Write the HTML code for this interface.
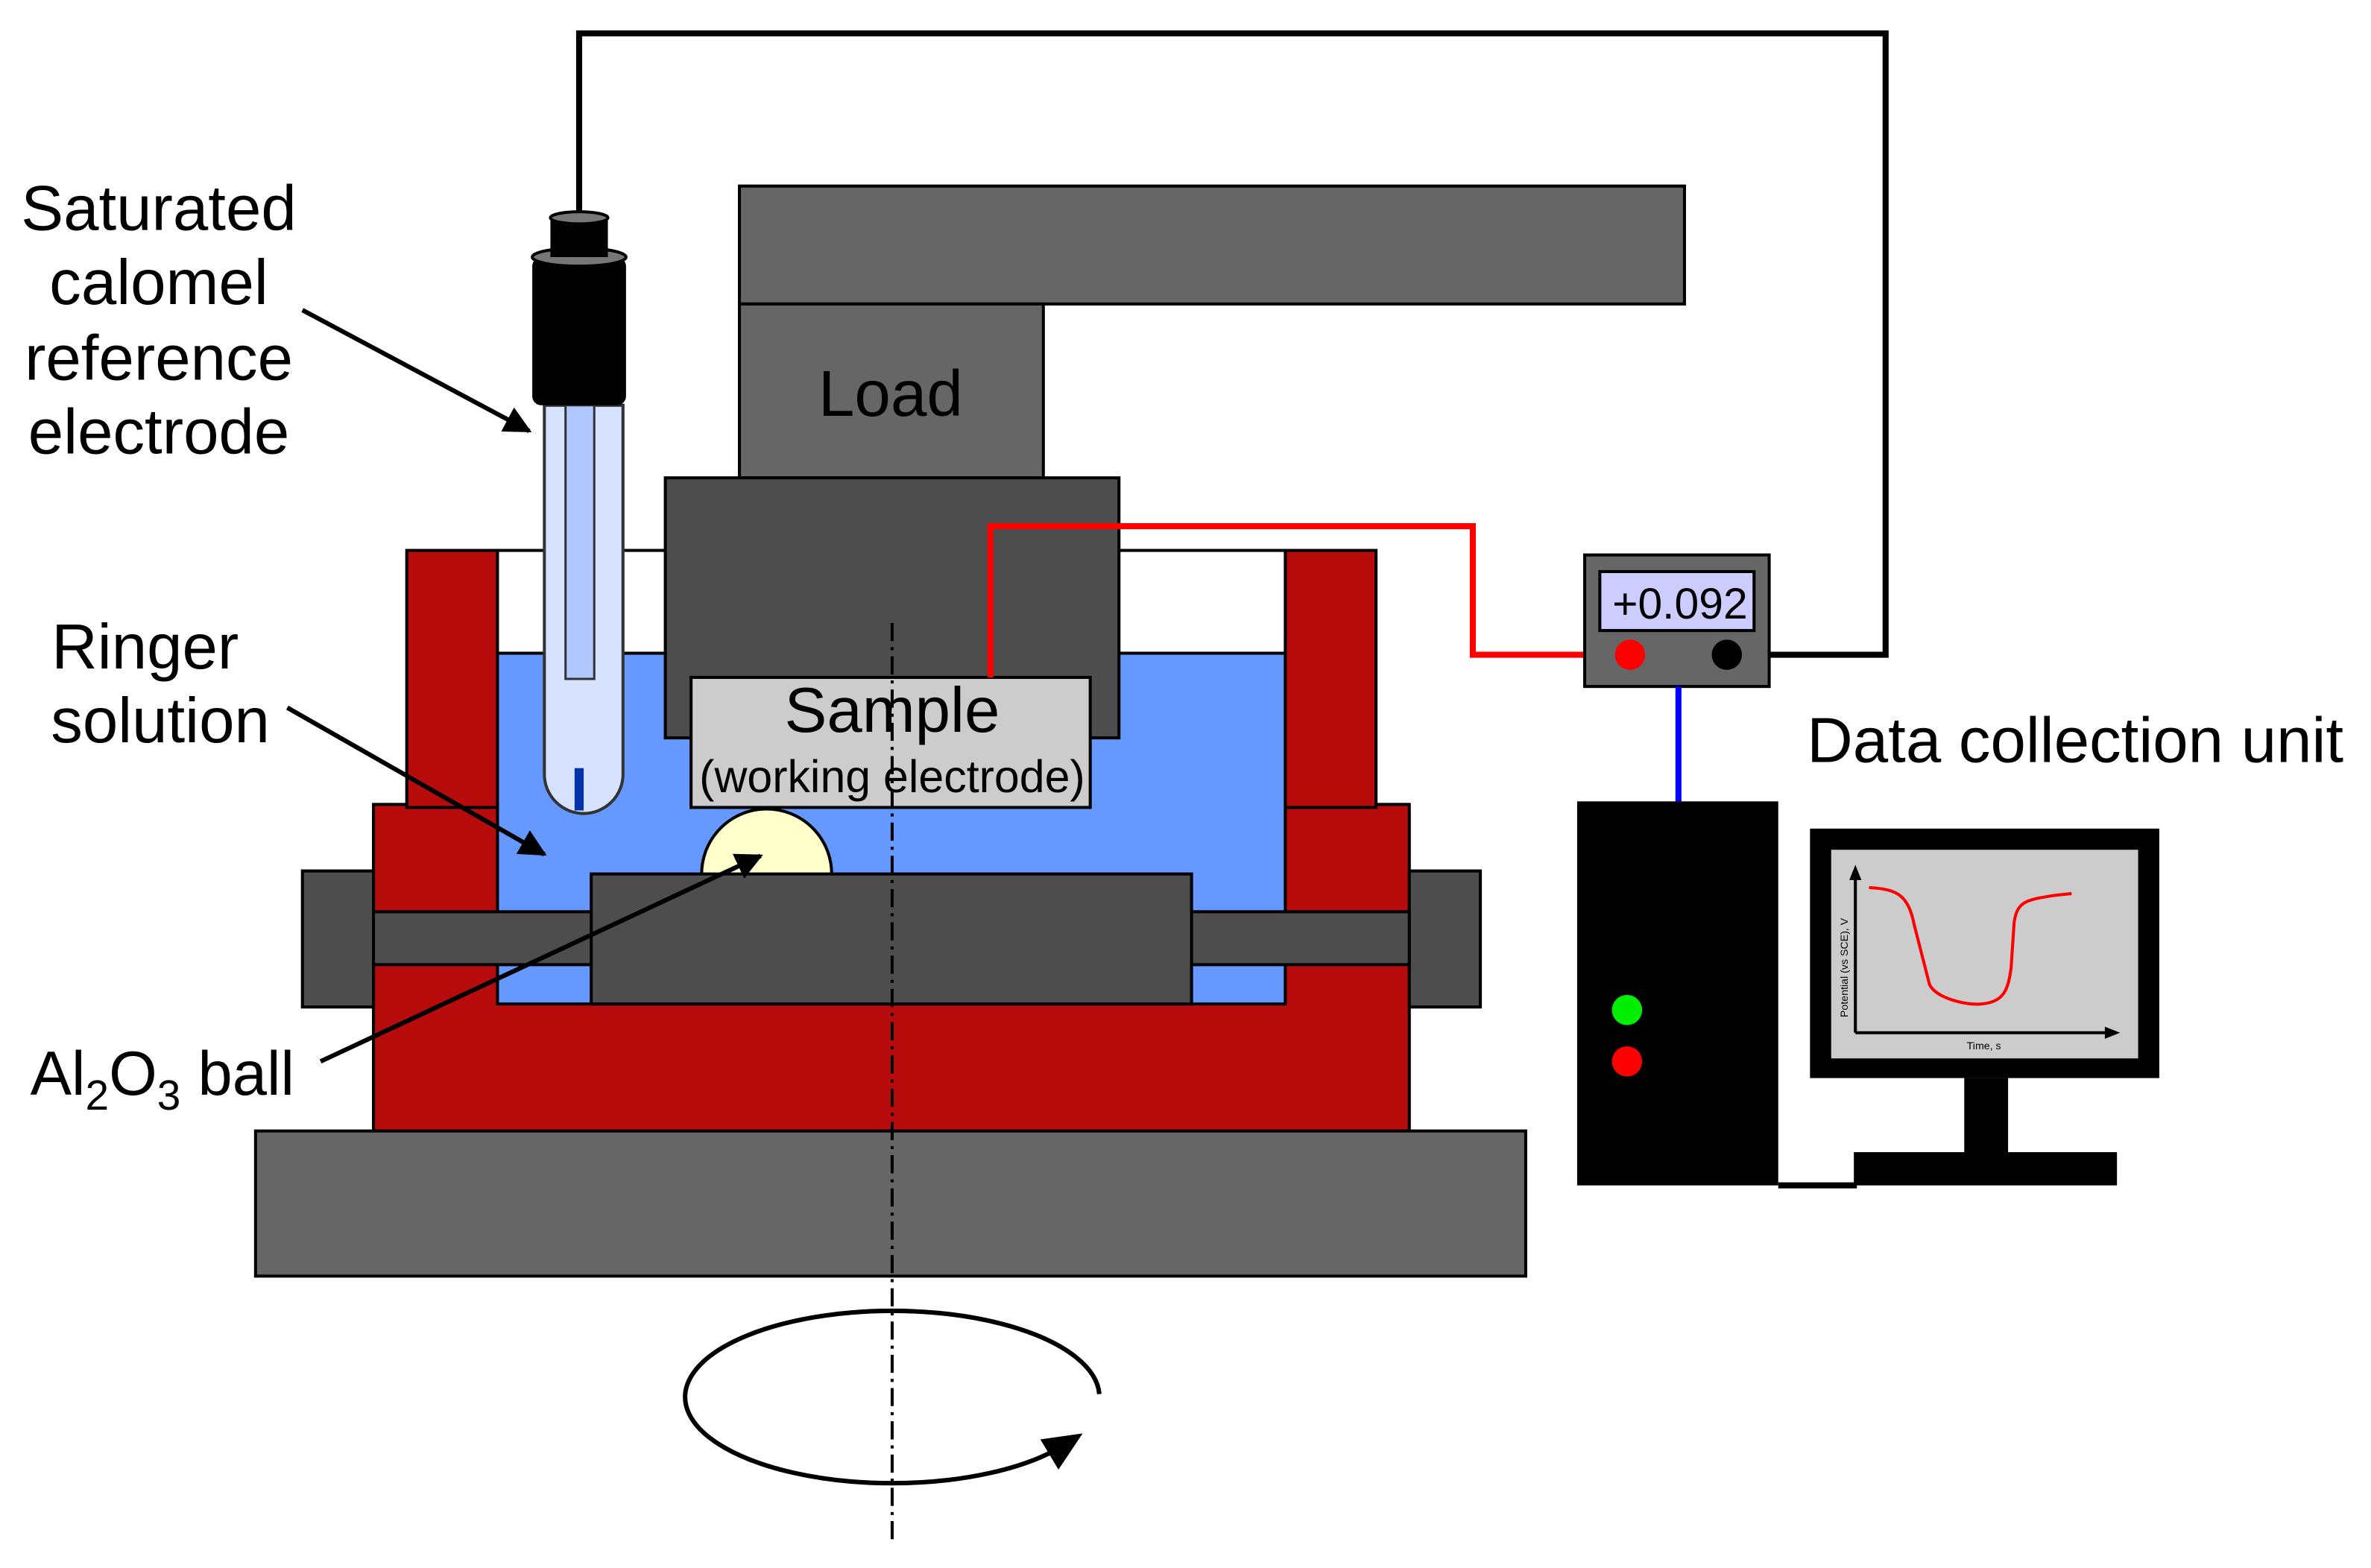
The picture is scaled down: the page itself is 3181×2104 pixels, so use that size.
<!DOCTYPE html>
<html><head><meta charset="utf-8"><style>
html,body{margin:0;padding:0;background:#fff;}
svg{display:block;}
text{font-family:"Liberation Sans",Arial,sans-serif;fill:#000;}
</style></head><body>
<svg width="3181" height="2104" viewBox="0 0 1568 1037" xmlns="http://www.w3.org/2000/svg">
<defs>
<marker id="ah" viewBox="0 0 10 10" refX="9" refY="5" markerWidth="6" markerHeight="6" orient="auto" markerUnits="strokeWidth"><path d="M0,0 L10,5 L0,10 z" fill="#000"/></marker>
</defs>
<rect width="1568" height="1037" fill="#fff"/>
<polyline points="383,140 383,22 1247,22 1247,433 1142,433" fill="none" stroke="#000" stroke-width="4"/>
<rect x="489" y="123" width="625" height="78" fill="#666" stroke="#000" stroke-width="2"/>
<rect x="489" y="201" width="201" height="115" fill="#666" stroke="#000" stroke-width="2"/>
<text x="589" y="275" font-size="43" text-anchor="middle">Load</text>
<rect x="247" y="532" width="685" height="216" fill="#b80c0c" stroke="#000" stroke-width="2"/>
<rect x="269" y="364" width="60" height="170" fill="#b80c0c" stroke="#000" stroke-width="2"/>
<rect x="850" y="364" width="60" height="170" fill="#b80c0c" stroke="#000" stroke-width="2"/>
<rect x="329" y="364" width="521" height="68" fill="#fff" stroke="#000" stroke-width="2"/>
<rect x="329" y="432" width="521" height="232" fill="#6699ff" stroke="#000" stroke-width="2"/>
<circle cx="507" cy="578" r="43" fill="#ffffcc" stroke="#000" stroke-width="2"/>
<rect x="440" y="316" width="300" height="172" fill="#4d4d4d" stroke="#000" stroke-width="2"/>
<rect x="200" y="576" width="47" height="90" fill="#4d4d4d" stroke="#000" stroke-width="2"/>
<rect x="932" y="576" width="47" height="90" fill="#4d4d4d" stroke="#000" stroke-width="2"/>
<rect x="247" y="603" width="685" height="35" fill="#4d4d4d" stroke="#000" stroke-width="2"/>
<rect x="391" y="578" width="397" height="86" fill="#4d4d4d" stroke="#000" stroke-width="2"/>
<rect x="169" y="748" width="840" height="96" fill="#666" stroke="#000" stroke-width="2"/>
<rect x="457" y="448" width="264" height="86" fill="#ccc" stroke="#000" stroke-width="2"/>
<text x="590" y="484" font-size="42" text-anchor="middle">Sample</text>
<text x="590" y="524" font-size="30" text-anchor="middle">(working electrode)</text>
<path d="M360,268 L360,512 A26,26 0 0 0 412,512 L412,268 Z" fill="#d6e2ff" stroke="#333" stroke-width="2"/>
<rect x="374" y="268" width="19" height="181" fill="#b0c8ff" stroke="#333" stroke-width="1.5"/>
<rect x="380" y="508" width="6" height="28" fill="#0033aa"/>
<rect x="352" y="170" width="62" height="98" rx="6" fill="#000"/>
<ellipse cx="383" cy="170" rx="31" ry="6" fill="#777" stroke="#000" stroke-width="2"/>
<rect x="364" y="144" width="38" height="26" fill="#000"/>
<ellipse cx="383" cy="144" rx="19" ry="4" fill="#777" stroke="#000" stroke-width="2"/>
<line x1="590" y1="412" x2="590" y2="1022" stroke="#000" stroke-width="2" stroke-dasharray="12,4,2,4"/>
<path d="M727,922 A137,57 0 1 0 700,958" fill="none" stroke="#000" stroke-width="3"/>
<path d="M688,952 L716,948 L700,972 Z" fill="#000"/>
<polyline points="655,448 655,348 974,348 974,433 1078,433" fill="none" stroke="#ff0000" stroke-width="4"/>
<rect x="1048" y="367" width="122" height="87" fill="#666" stroke="#000" stroke-width="2"/>
<rect x="1058" y="378" width="102" height="39" fill="#ccccff" stroke="#000" stroke-width="2"/>
<text x="1111" y="409" font-size="29" text-anchor="middle">+0.092</text>
<circle cx="1078" cy="433" r="10" fill="#ff0000"/>
<circle cx="1142" cy="433" r="10" fill="#000"/>
<line x1="1110" y1="454" x2="1110" y2="530" stroke="#0000ff" stroke-width="4"/>
<rect x="1043" y="530" width="133" height="254" fill="#000"/>
<circle cx="1076" cy="668" r="10" fill="#00ee00"/>
<circle cx="1076" cy="702" r="10" fill="#ff0000"/>
<line x1="1176" y1="784" x2="1228" y2="784" stroke="#000" stroke-width="4"/>
<rect x="1197" y="548" width="231" height="165" fill="#000"/>
<rect x="1211" y="562" width="203" height="138" fill="#ccc"/>
<rect x="1299" y="713" width="29" height="50" fill="#000"/>
<rect x="1226" y="762" width="174" height="22" fill="#000"/>
<line x1="1227" y1="683" x2="1397" y2="683" stroke="#000" stroke-width="2"/>
<path d="M1392,679 L1402,683 L1392,687 Z" fill="#000"/>
<line x1="1227" y1="683" x2="1227" y2="578" stroke="#000" stroke-width="2"/>
<path d="M1223,582 L1227,572 L1231,582 Z" fill="#000"/>
<path d="M1236,587 C1255,588 1262,592 1266,612 L1276,651 C1280,660 1300,665 1310,664 C1325,663 1328,655 1330,640 L1332,610 C1334,596 1340,595 1360,592 L1370,591" fill="none" stroke="#ff0000" stroke-width="2"/>
<text transform="translate(1222,640) rotate(-90)" font-size="7" text-anchor="middle">Potential (vs SCE), V</text>
<text x="1312" y="694" font-size="7" text-anchor="middle">Time, s</text>
<text x="1195" y="504" font-size="42">Data collection unit</text>
<g font-size="42" text-anchor="middle">
<text x="105" y="152">Saturated</text>
<text x="105" y="201">calomel</text>
<text x="105" y="251">reference</text>
<text x="105" y="300">electrode</text>
<text x="96" y="442">Ringer</text>
<text x="106" y="491">solution</text>
</g>
<text x="20" y="724" font-size="41">Al<tspan font-size="28" dy="10">2</tspan><tspan dy="-10">O</tspan><tspan font-size="28" dy="10">3</tspan><tspan dy="-10"> ball</tspan></text>
<line x1="200" y1="205" x2="350" y2="285" stroke="#000" stroke-width="3" marker-end="url(#ah)"/>
<line x1="190" y1="468" x2="360" y2="565" stroke="#000" stroke-width="3" marker-end="url(#ah)"/>
<line x1="212" y1="702" x2="503" y2="566" stroke="#000" stroke-width="3" marker-end="url(#ah)"/>
</svg>
</body></html>
